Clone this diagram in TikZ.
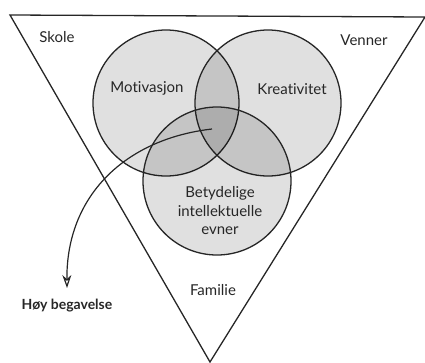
\documentclass[tikz,border=0pt]{standalone}
\usepackage{fontspec}
\setmainfont{Lato}[Ligatures=NoCommon]
\usetikzlibrary{arrows.meta}
\begin{document}
\begin{tikzpicture}[x=1pt,y=-1pt,
  venn/.style={circle,draw=black!85,line width=1.3pt,fill=black,fill opacity=0.12,text opacity=1,minimum size=146pt,inner sep=0pt},
  lbl/.style={font=\fontsize{15}{18.5}\selectfont,text=black!85,align=center,inner sep=0pt},
  edge/.style={draw=black!85,line width=1.3pt}]
\useasboundingbox (0,0) rectangle (425,362);
% triangle
\coordinate (tl) at (10,15);
\coordinate (tr) at (425,17);
\coordinate (ap) at (210,362);
\draw[edge,line join=miter] (tl) -- (tr) -- (ap) -- cycle;
% circles
\node[venn] (cm) at (166,103) {};
\node[venn] (ck) at (268,103) {};
\node[venn,minimum size=148pt] (ce) at (217,181) {};
% labels
\node[lbl] (skole) at (57,37) {Skole};
\node[lbl] (venner) at (364,40) {Venner};
\node[lbl] (motiv) at (147,88) {Motivasjon};
\node[lbl] (kreat) at (292,89) {Kreativitet};
\node[lbl] (evner) at (220,211) {Betydelige\\intellektuelle\\evner};
\node[lbl] (fam) at (213,290) {Familie};
\node[lbl,font=\fontsize{14}{18}\selectfont\bfseries] (hoy) at (67,306) {Høy begavelse};
% arrow
\coordinate (start) at (212,129);
\coordinate (tip) at (67,288);
\draw[edge,line width=1.2pt,-{Stealth[open,length=13pt,width=9pt]}] (start) .. controls (125,139) and (66,196) .. (tip);
\end{tikzpicture}
\end{document}
